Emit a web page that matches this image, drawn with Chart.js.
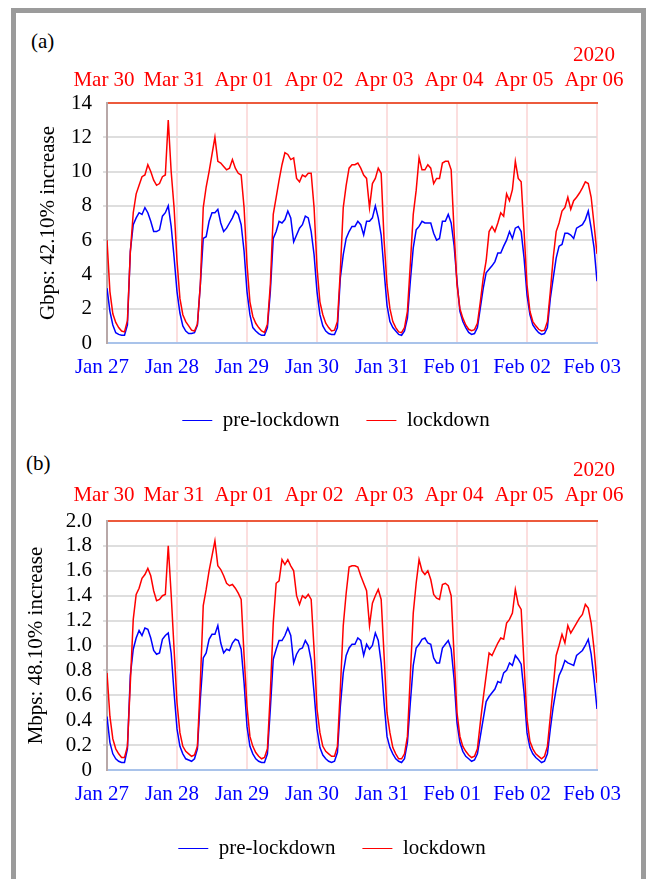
<!DOCTYPE html>
<html>
<head>
<meta charset="utf-8">
<script src="https://cdn.jsdelivr.net/npm/chart.js@4.4.1/dist/chart.umd.min.js"></script>
<style>
  body { margin: 0; background: #fff; font-family: 'Liberation Serif', 'Times New Roman', serif; }
  #page { position: relative; width: 646px; height: 879px; overflow: hidden; }
  #frame { position: absolute; left: 11px; top: 8px; width: 635px; height: 900px; box-sizing: border-box;
           border: 5px solid #9b9b9b; border-bottom: none; }
  .tag { position: absolute; font-size: 21px; line-height: 21px; color: #000; }
  canvas { position: absolute; left: 0; }
</style>
</head>
<body>
<div id="page">
  <div id="frame"></div>
  <div class="tag" style="left:31px; top:31px;">(a)</div>
  <div class="tag" style="left:26px; top:453px;">(b)</div>
  <canvas id="chartA" width="646" height="441" style="top:0px;"></canvas>
  <canvas id="chartB" width="646" height="428" style="top:441px;"></canvas>
</div>
<script>
// tick labels
var preDays = ['Jan 27', 'Jan 28', 'Jan 29', 'Jan 30', 'Jan 31', 'Feb 01', 'Feb 02', 'Feb 03'];
var lockDays = ['Mar 30', 'Mar 31', 'Apr 01', 'Apr 02', 'Apr 03', 'Apr 04', 'Apr 05', 'Apr 06'];
var yearLabel = '2020';
var yLabelsA = ['0', '2', '4', '6', '8', '10', '12', '14'];
var yLabelsB = ['0', '0.2', '0.4', '0.6', '0.8', '1.0', '1.2', '1.4', '1.6', '1.8', '2.0'];
var seriesNames = ['pre-lockdown', 'lockdown'];

// (a) Gbps, one value per hour from Monday 00:00
var preA = [
  3.2, 1.85, 1.05, 0.6, 0.5, 0.45, 0.45, 1.05, 5.35, 6.9, 7.3, 7.6, 7.5, 7.9, 7.6, 7.1, 6.5, 6.5, 6.6, 7.4, 7.6, 8.0, 6.8, 5.0,
  3.0, 1.75, 1.0, 0.7, 0.55, 0.55, 0.6, 1.05, 3.4, 6.1, 6.2, 7.1, 7.6, 7.6, 7.8, 7.0, 6.5, 6.7, 7.0, 7.3, 7.7, 7.5, 6.9, 5.35,
  3.0, 1.65, 0.9, 0.7, 0.55, 0.45, 0.45, 0.9, 3.0, 6.1, 6.5, 7.1, 7.0, 7.2, 7.7, 7.3, 5.9, 6.3, 6.7, 6.9, 7.4, 7.3, 6.5, 5.15,
  3.0, 1.65, 1.0, 0.7, 0.55, 0.5, 0.5, 0.9, 3.8, 5.15, 6.1, 6.5, 6.8, 6.8, 7.1, 6.9, 6.3, 7.1, 7.1, 7.3, 8.0, 7.3, 6.3, 4.2,
  2.2, 1.25, 0.9, 0.7, 0.5, 0.45, 0.7, 1.45, 3.6, 5.55, 6.6, 6.8, 7.1, 7.0, 7.0, 7.0, 6.4, 6.0, 6.1, 7.1, 7.1, 7.5, 7.0, 5.7,
  3.6, 1.85, 1.25, 0.9, 0.62, 0.5, 0.55, 0.9, 2.05, 3.2, 4.1, 4.3, 4.5, 4.75, 5.25, 5.25, 5.65, 6.0, 6.5, 6.1, 6.7, 6.8, 6.5, 4.95,
  2.8, 1.65, 1.05, 0.8, 0.6, 0.5, 0.55, 0.9, 2.6, 3.8, 4.95, 5.65, 5.75, 6.4, 6.4, 6.3, 6.1, 6.7, 6.8, 6.9, 7.2, 7.7, 6.7, 5.55,
  3.6
];
var lockA = [
  6.0, 3.0, 1.7, 1.2, 0.9, 0.7, 0.65, 1.3, 5.3, 7.6, 8.7, 9.2, 9.7, 9.8, 10.4, 10.0, 9.5, 9.2, 9.3, 9.7, 9.8, 13.0, 10.0, 7.9,
  4.8, 2.6, 1.65, 1.25, 1.0, 0.75, 0.7, 1.1, 3.4, 7.9, 9.1, 10.0, 11.0, 12.0, 10.6, 10.5, 10.3, 10.1, 10.2, 10.7, 10.2, 9.9, 9.8, 7.9,
  4.6, 2.4, 1.55, 1.15, 0.9, 0.7, 0.62, 1.1, 3.4, 7.5, 8.5, 9.5, 10.4, 11.1, 11.0, 10.7, 10.8, 9.6, 9.4, 9.8, 9.7, 9.9, 9.9, 7.9,
  4.4, 2.4, 1.65, 1.15, 0.9, 0.7, 0.75, 1.25, 4.2, 7.9, 9.2, 10.2, 10.4, 10.4, 10.5, 10.2, 9.8, 9.6, 7.9, 9.3, 9.6, 10.2, 9.9, 6.0,
  3.4, 2.0, 1.25, 0.9, 0.65, 0.6, 0.9, 1.85, 4.6, 7.5, 8.9, 10.8, 10.1, 10.1, 10.4, 10.2, 9.3, 9.6, 9.6, 10.5, 10.6, 10.6, 10.1, 6.5,
  3.4, 2.0, 1.45, 1.05, 0.8, 0.72, 0.78, 1.15, 2.4, 3.8, 4.8, 6.5, 6.8, 6.5, 7.0, 7.6, 7.4, 8.7, 8.3, 8.95, 10.6, 9.6, 9.4, 6.5,
  3.4, 1.85, 1.25, 1.0, 0.8, 0.7, 0.75, 1.25, 3.0, 5.0, 6.5, 7.0, 7.7, 7.9, 8.5, 7.8, 8.3, 8.5, 8.75, 9.05, 9.4, 9.3, 8.5, 6.9,
  5.2
];

// (b) Mbps, one value per hour from Monday 00:00
var preB = [
  0.43, 0.22, 0.13, 0.09, 0.07, 0.06, 0.06, 0.17, 0.76, 0.97, 1.06, 1.12, 1.08, 1.14, 1.13, 1.06, 0.96, 0.93, 0.94, 1.05, 1.08, 1.10, 0.94, 0.62,
  0.33, 0.19, 0.13, 0.09, 0.08, 0.07, 0.09, 0.17, 0.57, 0.90, 0.94, 1.05, 1.09, 1.09, 1.16, 1.02, 0.94, 0.97, 0.96, 1.02, 1.05, 1.04, 0.97, 0.70,
  0.35, 0.19, 0.13, 0.09, 0.07, 0.06, 0.06, 0.13, 0.49, 0.89, 0.97, 1.04, 1.04, 1.08, 1.14, 1.08, 0.86, 0.93, 0.97, 0.98, 1.04, 1.00, 0.88, 0.62,
  0.33, 0.18, 0.12, 0.09, 0.07, 0.06, 0.07, 0.14, 0.51, 0.78, 0.92, 0.98, 1.01, 1.01, 1.06, 1.04, 0.92, 1.01, 0.97, 1.00, 1.10, 1.04, 0.86, 0.54,
  0.27, 0.18, 0.13, 0.09, 0.07, 0.06, 0.09, 0.22, 0.54, 0.84, 0.98, 1.01, 1.05, 1.06, 1.02, 1.01, 0.90, 0.86, 0.86, 0.98, 1.01, 1.04, 0.97, 0.73,
  0.38, 0.22, 0.15, 0.11, 0.09, 0.07, 0.08, 0.13, 0.27, 0.41, 0.55, 0.59, 0.62, 0.65, 0.71, 0.70, 0.78, 0.80, 0.86, 0.84, 0.92, 0.89, 0.85, 0.62,
  0.30, 0.18, 0.13, 0.10, 0.08, 0.06, 0.07, 0.13, 0.33, 0.51, 0.65, 0.76, 0.81, 0.88, 0.86, 0.85, 0.84, 0.92, 0.94, 0.96, 1.00, 1.05, 0.93, 0.73,
  0.49
];
var lockB = [
  0.78, 0.43, 0.25, 0.17, 0.13, 0.10, 0.10, 0.19, 0.70, 1.21, 1.41, 1.46, 1.54, 1.57, 1.62, 1.56, 1.44, 1.36, 1.37, 1.40, 1.41, 1.80, 1.41, 0.97,
  0.54, 0.30, 0.19, 0.15, 0.13, 0.11, 0.12, 0.19, 0.70, 1.32, 1.45, 1.60, 1.72, 1.84, 1.64, 1.61, 1.56, 1.50, 1.48, 1.49, 1.46, 1.42, 1.37, 0.92,
  0.51, 0.27, 0.19, 0.14, 0.11, 0.09, 0.10, 0.17, 0.62, 1.18, 1.50, 1.52, 1.69, 1.65, 1.69, 1.64, 1.60, 1.40, 1.33, 1.40, 1.38, 1.41, 1.37, 0.97,
  0.49, 0.30, 0.19, 0.15, 0.13, 0.11, 0.11, 0.19, 0.65, 1.16, 1.42, 1.63, 1.64, 1.64, 1.63, 1.56, 1.50, 1.44, 1.16, 1.34, 1.40, 1.45, 1.37, 0.92,
  0.46, 0.30, 0.18, 0.13, 0.09, 0.09, 0.13, 0.27, 0.76, 1.26, 1.50, 1.69, 1.60, 1.57, 1.60, 1.53, 1.41, 1.38, 1.37, 1.49, 1.50, 1.48, 1.40, 0.92,
  0.46, 0.27, 0.19, 0.15, 0.12, 0.10, 0.11, 0.17, 0.38, 0.58, 0.76, 0.94, 0.92, 0.97, 1.02, 1.06, 1.05, 1.18, 1.21, 1.26, 1.45, 1.33, 1.29, 0.84,
  0.41, 0.23, 0.17, 0.13, 0.11, 0.09, 0.11, 0.19, 0.43, 0.67, 0.92, 1.00, 1.09, 1.02, 1.16, 1.10, 1.14, 1.18, 1.22, 1.25, 1.33, 1.30, 1.18, 0.97,
  0.70
];

Chart.defaults.font.family = "'Liberation Serif', 'Times New Roman', serif";
Chart.defaults.font.size = 21;
Chart.defaults.color = '#000';

function toPoints(values) {
    return values.map(function(v, i) { return { x: i, y: v }; });
}

function makeChart(canvasId, opt) {
    let ctx = document.getElementById(canvasId).getContext('2d');
    let lastY = opt.yLabels.length - 1;
    return new Chart(ctx, {
        type: 'line',
        data: {
            datasets: [{
                label: seriesNames[0],
                data: toPoints(opt.pre),
                borderColor: '#0000ff',
                backgroundColor: '#0000ff',
                borderWidth: 1.5,
                pointRadius: 0,
                tension: 0,
                order: 1
            }, {
                label: seriesNames[1],
                data: toPoints(opt.lock),
                borderColor: '#ff0000',
                backgroundColor: '#ff0000',
                borderWidth: 1.5,
                pointRadius: 0,
                tension: 0,
                order: 0
            }]
        },
        options: {
            responsive: false,
            animation: false,
            layout: { padding: { left: opt.padLeft, right: 0, top: 0, bottom: 0 } },
            scales: {
                x: {
                    type: 'linear', position: 'bottom', min: 0, max: 168,
                    afterFit: function(s) { s.height = opt.bottomH; },
                    ticks: {
                        stepSize: 24, autoSkip: false, maxRotation: 0, minRotation: 0,
                        padding: 12, labelOffset: -5, color: '#0000ff',
                        callback: function(v) {
                            let i = Math.round(v / 24);
                            return i === preDays.length - 1 ? [preDays[i], yearLabel] : preDays[i];
                        }
                    },
                    grid: {
                        drawTicks: false, lineWidth: 2,
                        color: function(c) { return c.index === 0 ? 'rgba(0,0,0,0)' : '#fcdede'; }
                    },
                    border: { color: '#a9c3ea', width: 2 }
                },
                x2: {
                    type: 'linear', position: 'top', min: 0, max: 168,
                    afterFit: function(s) { s.height = opt.topH; },
                    ticks: {
                        stepSize: 24, autoSkip: false, maxRotation: 0, minRotation: 0,
                        padding: opt.topPad, labelOffset: -3, color: '#ff0000',
                        callback: function(v) {
                            let i = Math.round(v / 24);
                            return i === lockDays.length - 1 ? [yearLabel, lockDays[i]] : lockDays[i];
                        }
                    },
                    grid: { drawOnChartArea: false, drawTicks: false },
                    border: { color: '#ec5a3c', width: 2 }
                },
                y: {
                    type: 'linear', position: 'left', min: 0, max: opt.yMax,
                    afterFit: function(s) { s.width = 107 - opt.padLeft; },
                    ticks: {
                        stepSize: opt.yStep, autoSkip: false, padding: 11, color: '#000',
                        callback: function(v, i) { return opt.yLabels[i]; }
                    },
                    grid: {
                        lineWidth: 2, tickLength: 4,
                        color: function(c) { return (c.index === 0 || c.index === lastY) ? 'rgba(0,0,0,0)' : '#dedede'; }
                    },
                    border: { color: '#b8a8a8', width: 2 },
                    title: { display: true, text: opt.yTitle, color: '#000', padding: { top: opt.titlePad, bottom: 0 } }
                },
                yr: {
                    type: 'linear', position: 'right', display: true,
                    afterFit: function(s) { s.width = 49; },
                    ticks: { display: false },
                    grid: { display: false, drawTicks: false },
                    border: { display: false }
                }
            },
            plugins: {
                tooltip: { enabled: false },
                legend: {
                    position: 'bottom',
                    labels: {
                        boxWidth: 30, boxHeight: 1, padding: 27, color: '#000',
                        generateLabels: function(chart) {
                            return chart.data.datasets.map(function(d, i) {
                                return { text: d.label, fillStyle: d.borderColor, strokeStyle: d.borderColor, lineWidth: 0, datasetIndex: i };
                            });
                        }
                    }
                }
            }
        }
    });
}

makeChart('chartA', {
    pre: preA, lock: lockA, yMax: 14, yStep: 2, yLabels: yLabelsA,
    yTitle: 'Gbps: 42.10% increase', padLeft: 26, titlePad: 10,
    topH: 103, topPad: 10, bottomH: 40
});
makeChart('chartB', {
    pre: preB, lock: lockB, yMax: 2, yStep: 0.2, yLabels: yLabelsB,
    yTitle: 'Mbps: 48.10% increase', padLeft: 18, titlePad: 6,
    topH: 80, topPad: 13, bottomH: 41
});
</script>
</body>
</html>
